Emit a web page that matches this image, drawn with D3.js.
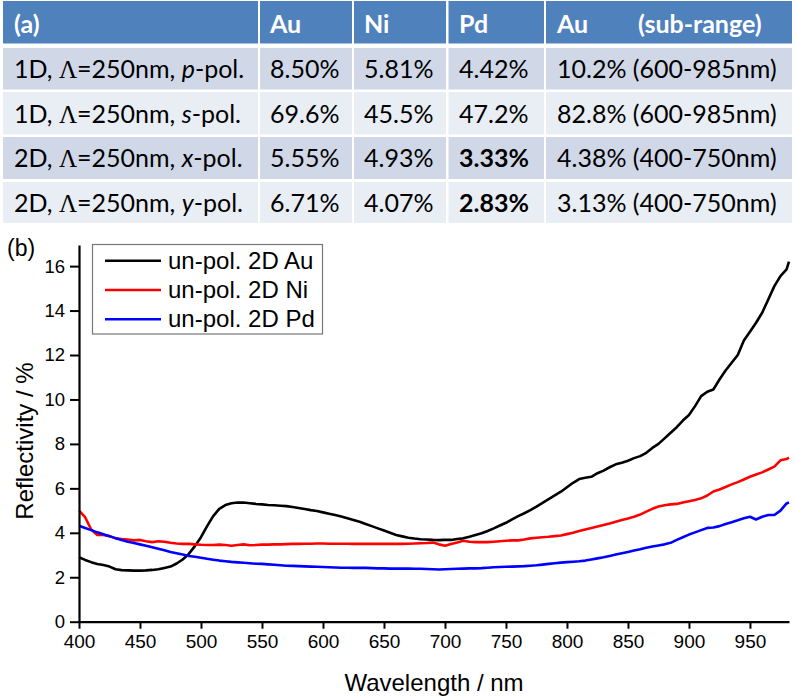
<!DOCTYPE html>
<html><head><meta charset="utf-8">
<script src="https://cdn.jsdelivr.net/npm/d3@7"></script>
<style>body{margin:0;background:#fff}svg{display:block}</style>
</head><body>
<svg id="c" width="796" height="700"></svg>
<script>
// ---------- table data ----------
const tableHeader = ["(a)", "Au", "Ni", "Pd", "Au"];
const tableHeaderExtra = "(sub-range)";
const tableDim = ["1D", "1D", "2D", "2D"];
const tablePeriod = ["250nm", "250nm", "250nm", "250nm"];
const tablePol = ["p", "s", "x", "y"];
const tableAu = ["8.50%", "69.6%", "5.55%", "6.71%"];
const tableNi = ["5.81%", "45.5%", "4.93%", "4.07%"];
const tablePd = ["4.42%", "47.2%", "3.33%", "2.83%"];
const tableAuSub = ["10.2% (600-985nm)", "82.8% (600-985nm)", "4.38% (400-750nm)", "3.13% (400-750nm)"];

// ---------- chart data ----------
const wavelength = [400,405,410,415,420,425,430,435,440,445,450,455,460,465,470,475,480,485,490,495,500,505,510,515,520,525,530,535,540,545,550,555,560,565,570,575,580,585,590,595,600,605,610,615,620,625,630,635,640,645,650,655,660,665,670,675,680,685,690,695,700,705,710,715,720,725,730,735,740,745,750,755,760,765,770,775,780,785,790,795,800,805,810,815,820,825,830,835,840,845,850,855,860,865,870,875,880,885,890,895,900,905,910,915,920,925,930,935,940,945,950,955,960,965,970,975,980,982];
const au = [2.90,2.78,2.68,2.60,2.55,2.48,2.36,2.32,2.31,2.30,2.30,2.31,2.33,2.36,2.42,2.48,2.62,2.80,3.05,3.40,3.80,4.30,4.75,5.08,5.25,5.33,5.36,5.36,5.33,5.30,5.28,5.25,5.24,5.22,5.20,5.16,5.12,5.07,5.02,4.98,4.92,4.86,4.80,4.73,4.66,4.58,4.50,4.40,4.30,4.20,4.10,4.00,3.90,3.84,3.78,3.74,3.71,3.70,3.68,3.67,3.68,3.68,3.72,3.75,3.82,3.90,3.98,4.08,4.20,4.33,4.45,4.60,4.75,4.88,5.02,5.18,5.35,5.52,5.68,5.85,6.05,6.25,6.42,6.48,6.52,6.68,6.80,6.95,7.08,7.15,7.24,7.36,7.45,7.60,7.82,8.00,8.25,8.50,8.75,9.05,9.30,9.70,10.15,10.35,10.45,10.90,11.30,11.65,12.00,12.65,13.05,13.45,13.90,14.50,15.10,15.55,15.85,16.20];
const ni = [5.00,4.70,4.15,3.90,3.90,3.85,3.75,3.72,3.70,3.66,3.68,3.62,3.58,3.62,3.60,3.55,3.52,3.50,3.50,3.48,3.46,3.45,3.45,3.47,3.45,3.42,3.45,3.48,3.44,3.45,3.47,3.47,3.48,3.48,3.49,3.50,3.50,3.51,3.51,3.52,3.52,3.51,3.51,3.51,3.51,3.50,3.51,3.50,3.50,3.50,3.50,3.51,3.50,3.50,3.51,3.52,3.53,3.54,3.56,3.48,3.42,3.50,3.56,3.64,3.60,3.58,3.58,3.58,3.60,3.62,3.64,3.66,3.66,3.70,3.75,3.78,3.80,3.82,3.85,3.88,3.94,4.00,4.08,4.15,4.22,4.28,4.35,4.42,4.50,4.58,4.64,4.72,4.82,4.95,5.08,5.18,5.24,5.28,5.30,5.36,5.42,5.48,5.55,5.68,5.86,5.95,6.06,6.18,6.28,6.40,6.52,6.62,6.72,6.85,6.98,7.26,7.32,7.38];
const pd = [4.32,4.22,4.12,4.02,3.93,3.85,3.76,3.68,3.60,3.54,3.48,3.42,3.35,3.28,3.21,3.14,3.08,3.02,2.96,2.92,2.88,2.83,2.79,2.75,2.72,2.69,2.67,2.65,2.63,2.61,2.60,2.58,2.56,2.54,2.52,2.51,2.50,2.49,2.48,2.47,2.46,2.45,2.44,2.43,2.43,2.42,2.42,2.42,2.41,2.40,2.40,2.39,2.39,2.39,2.39,2.38,2.38,2.37,2.36,2.35,2.36,2.37,2.38,2.39,2.40,2.40,2.41,2.43,2.45,2.46,2.47,2.48,2.49,2.50,2.52,2.54,2.57,2.60,2.63,2.66,2.68,2.70,2.72,2.75,2.80,2.85,2.90,2.96,3.02,3.08,3.14,3.20,3.26,3.33,3.38,3.43,3.48,3.55,3.68,3.80,3.92,4.02,4.12,4.22,4.24,4.30,4.40,4.48,4.56,4.65,4.72,4.60,4.72,4.80,4.80,5.00,5.32,5.36];
const seriesNames = ["un-pol. 2D Au", "un-pol. 2D Ni", "un-pol. 2D Pd"];
const seriesColors = ["#000000", "#ff0000", "#0000ff"];
const xTicks = [400,450,500,550,600,650,700,750,800,850,900,950];
const xMinorTicks = [425,475,525,575,625,675,725,775,825,875,925,975];
const yTicks = [0,2,4,6,8,10,12,14,16];
const yMinorTicks = [1,3,5,7,9,11,13,15];
const xTitle = "Wavelength / nm";
const yTitle = "Reflectivity / %";

const svg = d3.select("#c");

// ---------- table ----------
const colX = [3, 260, 354, 448.5, 546];
const colW = [255, 92, 92, 95.5, 246];
const rowY = [48, 92, 137, 182];
const rowH = [41.5, 42.5, 42, 41];
const tFont = "Lato, 'Open Sans', sans-serif";
const tSize = 25;

svg.selectAll("rect.hdr").data(tableHeader).enter().append("rect")
  .attr("x", (d,i)=>colX[i]).attr("y", 1).attr("width", (d,i)=>colW[i]).attr("height", 42.5)
  .attr("fill", "#4f81bd");
const hx = [14, 270, 364, 459, 557];
svg.selectAll("text.hdr").data(tableHeader).enter().append("text")
  .attr("x", (d,i)=>hx[i]).attr("y", 33).attr("fill", "#fff")
  .attr("font-family", tFont).attr("font-size", tSize).attr("font-weight", "bold").text(d=>d);
svg.append("text").attr("x", 638).attr("y", 33).attr("fill", "#fff")
  .attr("font-family", tFont).attr("font-size", tSize).attr("font-weight", "bold").text(tableHeaderExtra);

const rowsData = tableDim.map((d,i)=>({dim:d, per:tablePeriod[i], pol:tablePol[i], vals:[tableAu[i], tableNi[i], tablePd[i], tableAuSub[i]]}));
const baseY = [77.8, 122.8, 167, 212];
rowsData.forEach((r, ri) => {
  const fill = ri % 2 === 0 ? "#d0d8e8" : "#e9edf4";
  for (let c = 0; c < 5; c++) {
    svg.append("rect").attr("x", colX[c]).attr("y", rowY[ri]).attr("width", colW[c]).attr("height", rowH[ri]).attr("fill", fill);
  }
  const t = svg.append("text").attr("x", 14).attr("y", baseY[ri]).attr("font-family", tFont).attr("font-size", tSize).attr("fill", "#000");
  t.append("tspan").text(r.dim + ", ");
  t.append("tspan").attr("font-family", "'Liberation Serif','DejaVu Serif',serif").text("\u039B");
  t.append("tspan").text("=" + r.per + ", ");
  t.append("tspan").attr("font-style", "italic").text(r.pol);
  t.append("tspan").text("-pol.");
  r.vals.forEach((v, vi) => {
    svg.append("text").attr("x", hx[vi+1]).attr("y", baseY[ri]).attr("font-family", tFont).attr("font-size", tSize)
      .attr("font-weight", (vi === 2 && ri >= 2) ? "bold" : "normal").attr("fill", "#000").text(v);
  });
});

// ---------- chart ----------
const x = d3.scaleLinear().domain([400, 982]).range([79, 789]);
const y = d3.scaleLinear().domain([0, 16.95]).range([621.7, 245]);
const aFont = "'Liberation Sans', Arial, sans-serif";

const line = d3.line().x((d,i)=>x(wavelength[i])).y(d=>y(d));
[au, ni, pd].forEach((s, si) => {
  svg.append("path").attr("d", line(s)).attr("fill", "none")
    .attr("stroke", seriesColors[si]).attr("stroke-width", 2.6).attr("stroke-linejoin", "round");
});

const gx = svg.append("g").attr("transform", "translate(0,621.7)");
gx.call(d3.axisBottom(x).tickValues(xMinorTicks).tickSize(5).tickFormat(""));
gx.call(d3.axisBottom(x).tickValues(xTicks).tickSize(7).tickSizeOuter(0).tickPadding(6).tickFormat(d3.format("d")));
gx.selectAll("path.domain").attr("stroke", "#000").attr("stroke-width", 2.2);
gx.selectAll("line").attr("stroke", "#000").attr("stroke-width", 2);
gx.selectAll("text").attr("font-family", aFont).attr("font-size", 19).attr("fill", "#000");

const gy = svg.append("g").attr("transform", "translate(79,0)");
gy.call(d3.axisLeft(y).tickValues(yMinorTicks).tickSize(5).tickFormat(""));
gy.call(d3.axisLeft(y).tickValues(yTicks).tickSize(9).tickSizeOuter(0).tickPadding(5).tickFormat(d3.format("d")));
gy.selectAll("path.domain").attr("stroke", "#000").attr("stroke-width", 2.2);
gy.selectAll("line").attr("stroke", "#000").attr("stroke-width", 2);
gy.selectAll("text").attr("font-family", aFont).attr("font-size", 18.5).attr("fill", "#000");

svg.append("text").attr("x", 434).attr("y", 691).attr("text-anchor", "middle")
  .attr("font-family", aFont).attr("font-size", 24).text(xTitle);
svg.append("text").attr("transform", "translate(33,441) rotate(-90)").attr("text-anchor", "middle")
  .attr("font-family", aFont).attr("font-size", 24).text(yTitle);
svg.append("text").attr("x", 7).attr("y", 256).attr("font-family", aFont).attr("font-size", 23).text("(b)");

// legend
svg.append("rect").attr("x", 92.5).attr("y", 244.5).attr("width", 230).attr("height", 89.5)
  .attr("fill", "#fff").attr("stroke", "#777").attr("stroke-width", 1.2);
const lg = svg.selectAll("g.lg").data(seriesNames).enter().append("g")
  .attr("transform", (d,i)=>`translate(0,${260.7 + i*29.3})`);
lg.append("line").attr("x1", 105).attr("x2", 161).attr("stroke", (d,i)=>seriesColors[i]).attr("stroke-width", 2.6);
lg.append("text").attr("x", 168).attr("y", 7.8).attr("font-family", aFont).attr("font-size", 24).text(d=>d);
</script>
</body></html>
